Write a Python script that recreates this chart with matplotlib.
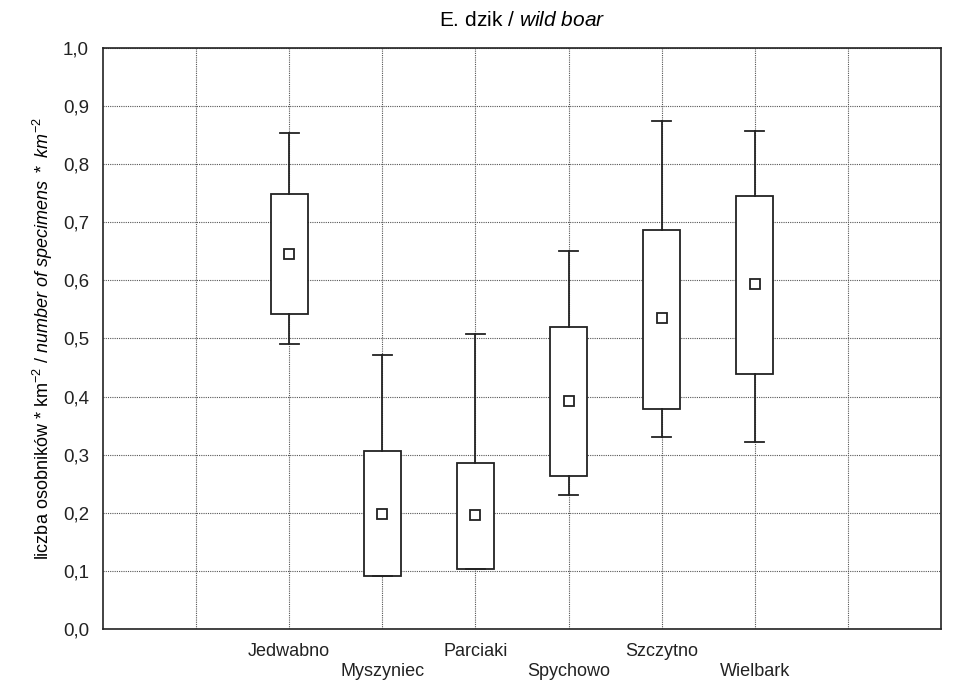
import matplotlib
matplotlib.use("Agg")
import matplotlib.pyplot as plt
from matplotlib.ticker import FixedLocator

plt.rcParams['font.family'] = ['Liberation Sans', 'DejaVu Sans']
plt.rcParams['mathtext.fontset'] = 'custom'
plt.rcParams['mathtext.rm'] = 'Liberation Sans'
plt.rcParams['mathtext.it'] = 'Liberation Sans:italic'

# Data
sites = ["Jedwabno", "Myszyniec", "Parciaki", "Spychowo", "Szczytno", "Wielbark"]
whisk_low = [0.491, 0.091, 0.104, 0.231, 0.330, 0.321]
box_low = [0.543, 0.091, 0.104, 0.263, 0.378, 0.439]
means = [0.646, 0.198, 0.196, 0.393, 0.535, 0.594]
box_high = [0.749, 0.306, 0.286, 0.520, 0.687, 0.745]
whisk_high = [0.853, 0.471, 0.507, 0.651, 0.875, 0.857]
yticks = [0.0, 0.1, 0.2, 0.3, 0.4, 0.5, 0.6, 0.7, 0.8, 0.9, 1.0]

stats = []
for i, name in enumerate(sites):
    stats.append(dict(label=name, whislo=whisk_low[i], q1=box_low[i], med=means[i],
                      mean=means[i], q3=box_high[i], whishi=whisk_high[i], fliers=[]))

fig = plt.figure(figsize=(9.59, 6.88), dpi=100)
ax = fig.add_axes([0.1074, 0.0858, 0.8738, 0.8444])

positions = list(range(2, 2 + len(sites)))
ax.bxp(stats, positions=positions, widths=0.4, showmeans=True, showfliers=False,
       patch_artist=True,
       boxprops=dict(facecolor='white', edgecolor='#222222', linewidth=1.3),
       whiskerprops=dict(color='#222222', linewidth=1.3),
       capprops=dict(color='#222222', linewidth=1.3),
       medianprops=dict(linewidth=0),
       meanprops=dict(marker='s', markerfacecolor='white', markeredgecolor='#222222',
                      markersize=7, markeredgewidth=1.3),
       capwidths=0.2, zorder=3)

ax.set_xlim(0, 9)
ax.set_ylim(0, 1.0)
ax.set_yticks(yticks)
ax.set_yticklabels([f"{v:.1f}".replace('.', ',') for v in yticks])

ax.xaxis.set_major_locator(FixedLocator(list(range(1, 9))))
xlabels = [""]
for i, name in enumerate(sites):
    xlabels.append(name if i % 2 == 0 else "\n" + name)
xlabels.append("")
ax.set_xticklabels(xlabels)
for t in ax.get_xticklabels():
    t.set_linespacing(1.25)

ax.tick_params(axis='both', length=0, colors='#222222')
ax.tick_params(axis='y', labelsize=13.5, pad=10)
ax.tick_params(axis='x', labelsize=13, pad=10)
ax.grid(True, linestyle=(0, (1, 1)), color='#555555', linewidth=0.8, zorder=0)
ax.set_axisbelow(True)
for s in ax.spines.values():
    s.set_linewidth(1.2)
    s.set_color('#222222')

ax.set_title("E. dzik / $\\mathit{wild\\ boar}$", fontsize=15, pad=16)
ax.set_ylabel("liczba osobników * km$^{-2}$ / $\\mathit{number\\ of\\ specimens\\ *\\ km^{-2}}$",
              fontsize=13, labelpad=6)

fig.savefig("out.png", dpi=100)
